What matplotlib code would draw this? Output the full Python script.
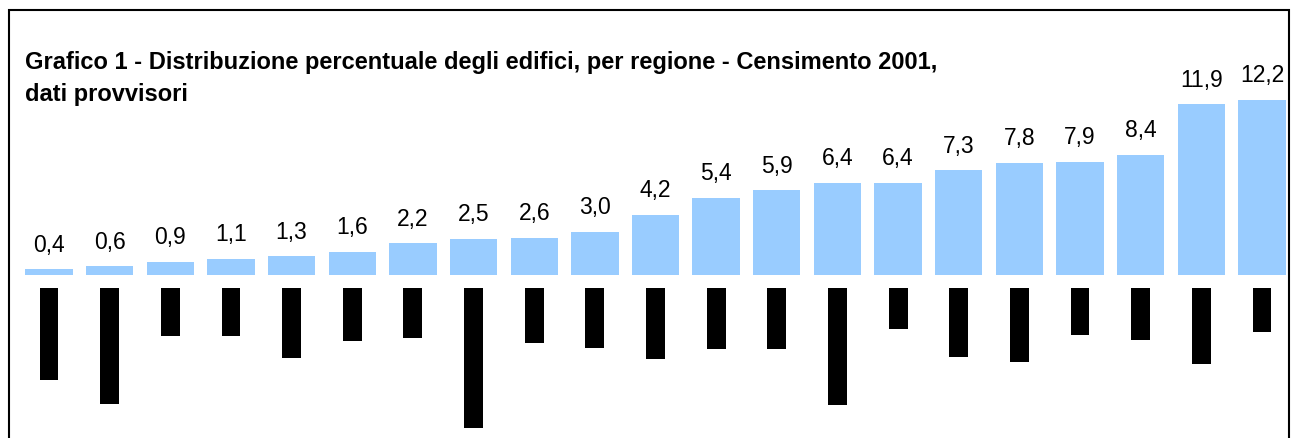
import matplotlib
matplotlib.use("Agg")
import matplotlib.pyplot as plt
from matplotlib.patches import Rectangle

plt.rcParams['font.family'] = ['Liberation Sans', 'DejaVu Sans']

regions = ["Valle d'Aosta", "Bolzano - Bozen", "Trento", "Molise", "Basilicata",
           "Umbria", "Liguria", "Friuli-Venezia Giulia", "Marche", "Abruzzo",
           "Sardegna", "Calabria", "Toscana", "Emilia-Romagna", "Lazio",
           "Piemonte", "Campania", "Puglia", "Veneto", "Lombardia", "Sicilia"]
values = [0.4, 0.6, 0.9, 1.1, 1.3, 1.6, 2.2, 2.5, 2.6, 3.0, 4.2, 5.4, 5.9,
          6.4, 6.4, 7.3, 7.8, 7.9, 8.4, 11.9, 12.2]
title_line1 = "Grafico 1 - Distribuzione percentuale degli edifici, per regione - Censimento 2001,"
title_line2 = "dati provvisori"

W, H = 1294, 439
fig = plt.figure(figsize=(W / 100, H / 100), dpi=100)
ax = fig.add_axes([0, 0, 1, 1])
ax.set_axis_off()

sp = 60.65
ppu = 14.34
base = 276
ax.set_xlim(-49 / sp, (W - 49) / sp)
ax.set_ylim((base - H) / ppu, base / ppu)

x = list(range(len(values)))
ax.bar(x, values, width=0.78, color='#99CCFF', edgecolor='none')
for xi, v in zip(x, values):
    ax.annotate(f"{v:.1f}".replace('.', ','), (xi, v), xytext=(0, 13.5),
                textcoords='offset points', ha='center', va='baseline',
                fontsize=16.5, color='#000000')
for xi, name in zip(x, regions):
    ax.text(xi, -15 / ppu, name, rotation=90, ha='center', va='top',
            fontsize=11, color='black',
            bbox=dict(facecolor='black', edgecolor='none', pad=1.8))

fig.text(25 / W, 1 - 69 / H, title_line1, ha='left', va='baseline',
         fontsize=17, fontweight='bold')
fig.text(25 / W, 1 - 101 / H, title_line2, ha='left', va='baseline',
         fontsize=17, fontweight='bold')

fig.patches.append(Rectangle((9 / W, -0.1), (1289 - 9) / W, 1.1 - 11 / H,
                             transform=fig.transFigure, fill=False,
                             edgecolor='black', linewidth=1.5))

fig.savefig('out.png', dpi=100)
